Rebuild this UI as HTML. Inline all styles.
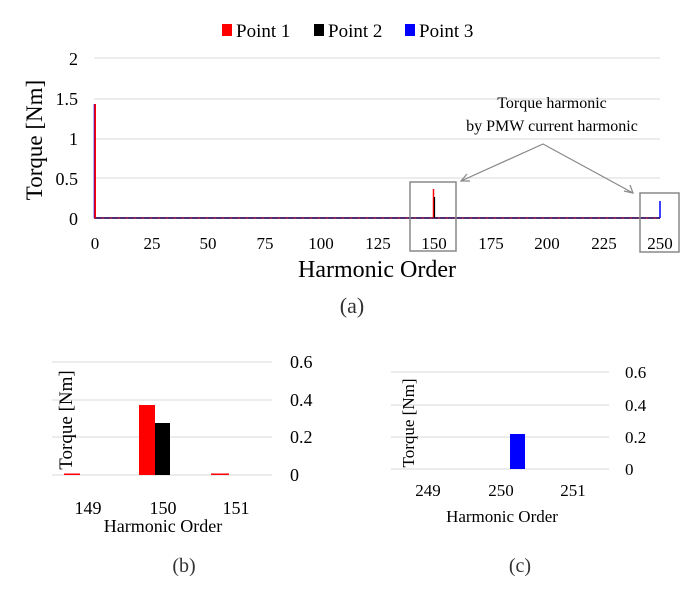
<!DOCTYPE html>
<html><head><meta charset="utf-8"><style>
body{margin:0;background:#fff;}
svg{display:block;font-family:"Liberation Serif",serif;}
</style></head><body>
<svg width="691" height="594" viewBox="0 0 691 594">
<rect x="222" y="24" width="10" height="12" fill="#f00"/><text x="236" y="37" font-size="19">Point 1</text>
<rect x="314" y="24" width="10" height="12" fill="#000"/><text x="328" y="37" font-size="19">Point 2</text>
<rect x="405" y="24" width="10" height="12" fill="#00f"/><text x="419" y="37" font-size="19">Point 3</text>
<g stroke="#e0e0e0" stroke-width="1.2">
<line x1="94" y1="58" x2="660" y2="58"/><line x1="94" y1="99" x2="660" y2="99"/>
<line x1="94" y1="139" x2="660" y2="139"/><line x1="94" y1="178" x2="660" y2="178"/>
</g>
<line x1="94" y1="218" x2="660" y2="218" stroke="#503070" stroke-width="2"/>
<line x1="94" y1="218" x2="660" y2="218" stroke="#d03040" stroke-width="1" stroke-dasharray="2,6"/>
<g font-size="18" text-anchor="end">
<text x="78" y="65">2</text><text x="78" y="105">1.5</text><text x="78" y="145">1</text><text x="78" y="185">0.5</text><text x="78" y="225">0</text>
</g>
<text transform="translate(42,140) rotate(-90)" font-size="23" text-anchor="middle">Torque [Nm]</text>
<line x1="95" y1="104" x2="95" y2="218" stroke="#f00" stroke-width="2"/>
<line x1="94" y1="104" x2="94" y2="218" stroke="#00f" stroke-width="0.6"/>
<line x1="433.5" y1="189" x2="433.5" y2="218" stroke="#f00" stroke-width="1.5"/>
<line x1="434.5" y1="197" x2="434.5" y2="218" stroke="#000" stroke-width="1.2"/>
<line x1="660" y1="201" x2="660" y2="218" stroke="#00f" stroke-width="1.5"/>
<g font-size="17" text-anchor="middle">
<text x="95" y="249">0</text><text x="152" y="249">25</text><text x="208" y="249">50</text><text x="265" y="249">75</text><text x="321" y="249">100</text><text x="378" y="249">125</text><text x="434" y="249">150</text><text x="491" y="249">175</text><text x="547" y="249">200</text><text x="604" y="249">225</text><text x="660" y="249">250</text>
</g>
<rect x="410" y="182" width="46" height="69" fill="none" stroke="#888" stroke-width="1.5"/>
<rect x="640" y="193" width="39" height="59" fill="none" stroke="#888" stroke-width="1.5"/>
<text x="552" y="108" font-size="16" text-anchor="middle">Torque harmonic</text>
<text x="552" y="131" font-size="16" text-anchor="middle">by PMW current harmonic</text>
<g stroke="#888" stroke-width="1.2" fill="none">
<polyline points="461,181 543,144 633,193"/>
<polyline points="467,174 461,181 470,181"/>
<polyline points="624,191 633,193 630,185"/>
</g>
<text x="377" y="277" font-size="24" text-anchor="middle">Harmonic Order</text>
<text x="352" y="313" font-size="22" text-anchor="middle" fill="#333">(a)</text>
<g stroke="#e0e0e0" stroke-width="1.2">
<line x1="52" y1="362" x2="272" y2="362"/><line x1="52" y1="400" x2="272" y2="400"/><line x1="52" y1="437" x2="272" y2="437"/><line x1="52" y1="475" x2="272" y2="475"/>
</g>
<g font-size="18"><text x="290" y="368">0.6</text><text x="290" y="406">0.4</text><text x="290" y="443">0.2</text><text x="290" y="481">0</text></g>
<rect x="139" y="405" width="16" height="70" fill="#f00"/>
<rect x="155" y="423" width="15" height="52" fill="#000"/>
<rect x="64" y="473.5" width="16" height="1.5" fill="#f00"/>
<rect x="211" y="473.5" width="18" height="1.5" fill="#f00"/>
<text transform="translate(72,420) rotate(-90)" font-size="19" text-anchor="middle">Torque [Nm]</text>
<g font-size="18" text-anchor="middle"><text x="88" y="514">149</text><text x="163" y="514">150</text><text x="236" y="514">151</text></g>
<text x="163" y="532" font-size="18" text-anchor="middle">Harmonic Order</text>
<text x="184" y="572" font-size="20" text-anchor="middle" fill="#333">(b)</text>
<g stroke="#e0e0e0" stroke-width="1.2">
<line x1="391" y1="372" x2="609" y2="372"/><line x1="391" y1="405" x2="609" y2="405"/><line x1="391" y1="437" x2="609" y2="437"/><line x1="391" y1="469" x2="609" y2="469"/>
</g>
<g font-size="17"><text x="625" y="378">0.6</text><text x="625" y="411">0.4</text><text x="625" y="443">0.2</text><text x="625" y="475">0</text></g>
<rect x="510" y="434" width="15" height="35" fill="#00f"/>
<text transform="translate(414,423) rotate(-90)" font-size="17" text-anchor="middle">Torque [Nm]</text>
<g font-size="17" text-anchor="middle"><text x="428" y="496">249</text><text x="501" y="496">250</text><text x="573" y="496">251</text></g>
<text x="502" y="522" font-size="17" text-anchor="middle">Harmonic Order</text>
<text x="520" y="572" font-size="20" text-anchor="middle" fill="#333">(c)</text>
</svg>
</body></html>
